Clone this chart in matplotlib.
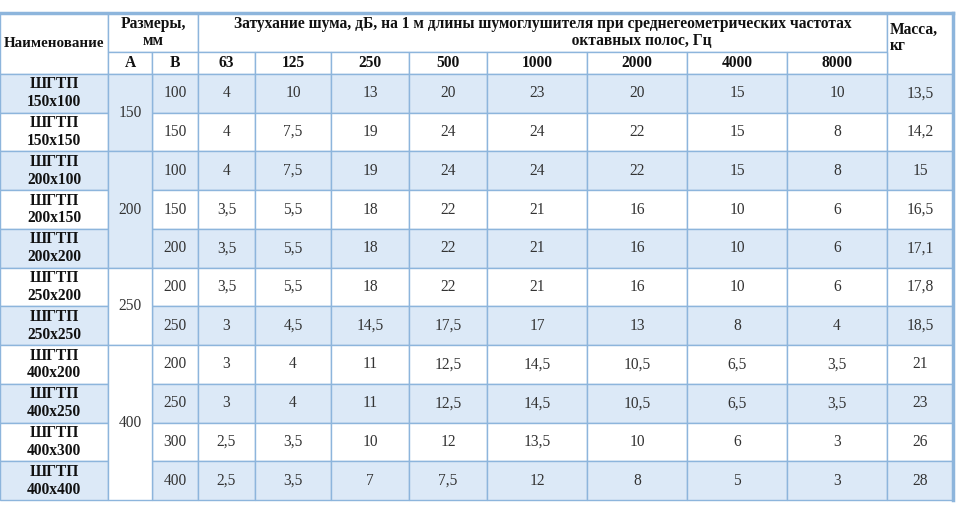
import matplotlib.pyplot as plt
from matplotlib.patches import Rectangle

names = ["ШГТП\n150x100", "ШГТП\n150x150", "ШГТП\n200x100", "ШГТП\n200x150", "ШГТП\n200x200",
         "ШГТП\n250x200", "ШГТП\n250x250", "ШГТП\n400x200", "ШГТП\n400x250", "ШГТП\n400x300",
         "ШГТП\n400x400"]
a_groups = [("150", 0, 2), ("200", 2, 5), ("250", 5, 7), ("400", 7, 11)]
b_vals = ["100", "150", "100", "150", "200", "200", "250", "200", "250", "300", "400"]
freqs = ["63", "125", "250", "500", "1000", "2000", "4000", "8000"]
atten = [
    ["4", "10", "13", "20", "23", "20", "15", "10"],
    ["4", "7,5", "19", "24", "24", "22", "15", "8"],
    ["4", "7,5", "19", "24", "24", "22", "15", "8"],
    ["3,5", "5,5", "18", "22", "21", "16", "10", "6"],
    ["3,5", "5,5", "18", "22", "21", "16", "10", "6"],
    ["3,5", "5,5", "18", "22", "21", "16", "10", "6"],
    ["3", "4,5", "14,5", "17,5", "17", "13", "8", "4"],
    ["3", "4", "11", "12,5", "14,5", "10,5", "6,5", "3,5"],
    ["3", "4", "11", "12,5", "14,5", "10,5", "6,5", "3,5"],
    ["2,5", "3,5", "10", "12", "13,5", "10", "6", "3"],
    ["2,5", "3,5", "7", "7,5", "12", "8", "5", "3"],
]
mass = ["13,5", "14,2", "15", "16,5", "17,1", "17,8", "18,5", "21", "23", "26", "28"]

# pixel layout
xs = [0, 108, 152, 198, 255, 331, 409, 487, 587, 687, 787, 887, 953]
y_top, y_h1, y_h2, y_bot = 13, 52, 74, 500
rh = (y_bot - y_h2) / len(names)
BLUE = "#dce9f7"
LINE = "#8db5dc"
TXT = "#333333"

plt.rcParams['font.family'] = ['Liberation Serif', 'DejaVu Serif']
fig = plt.figure(figsize=(9.58, 5.18), dpi=100)
ax = fig.add_axes([0, 0, 1, 1])
ax.set_xlim(0, 958)
ax.set_ylim(518, 0)
ax.axis('off')


def cell(x0, x1, y0, y1, fill, text="", bold=False, size=11.2, ha="center", ls=1.1):
    ax.add_patch(Rectangle((x0, y0), x1 - x0, y1 - y0, facecolor=fill,
                           edgecolor=LINE, linewidth=1))
    if text:
        tx = (x0 + x1) / 2 if ha == "center" else x0 + 3
        ax.text(tx, (y0 + y1) / 2, text, ha=ha, va="center", fontsize=size,
                fontweight="bold" if bold else "normal",
                color="#111111" if bold else TXT, linespacing=ls)


# header
cell(xs[0], xs[1], y_top, y_h2, "white", "Наименование", True, 10.8)
cell(xs[1], xs[3], y_top, y_h1, "white", "Размеры,\nмм", True, 11.2, ls=1.05)
cell(xs[3], xs[11], y_top, y_h1, "white",
     "Затухание шума, дБ, на 1 м длины шумоглушителя при среднегеометрических частотах\n"
     "                                                   октавных полос, Гц", True, 11.2, ls=1.05)
ax.add_patch(Rectangle((xs[11], y_top), xs[12] - xs[11], y_h2 - y_top,
                       facecolor="white", edgecolor=LINE, linewidth=1))
ax.text(xs[11] + 3, 38, "Масса,\nкг", ha="left", va="center", fontsize=11.2,
        fontweight="bold", color="#111111", linespacing=1.05)
cell(xs[1], xs[2], y_h1, y_h2, "white", "A", True)
cell(xs[2], xs[3], y_h1, y_h2, "white", "B", True)
for j, f in enumerate(freqs):
    cell(xs[3 + j], xs[4 + j], y_h1, y_h2, "white", f, True)

# body
for i in range(len(names)):
    y0 = y_h2 + i * rh
    y1 = y0 + rh
    fill = BLUE if i % 2 == 0 else "white"
    cell(xs[0], xs[1], y0, y1, fill, names[i], True, 11.2, ls=1.15)
    cell(xs[2], xs[3], y0, y1, fill, b_vals[i])
    for j in range(len(freqs)):
        cell(xs[3 + j], xs[4 + j], y0, y1, fill, atten[i][j])
    cell(xs[11], xs[12], y0, y1, fill, mass[i])

for k, (label, r0, r1) in enumerate(a_groups):
    fill = BLUE if k < 2 else "white"
    cell(xs[1], xs[2], y_h2 + r0 * rh, y_h2 + r1 * rh, fill, label)

ax.plot([xs[0], xs[12]], [y_top, y_top], color=LINE, linewidth=2.5)
ax.plot([xs[12], xs[12]], [y_top, y_bot], color=LINE, linewidth=2.5)

fig.savefig("out.png", dpi=100)
